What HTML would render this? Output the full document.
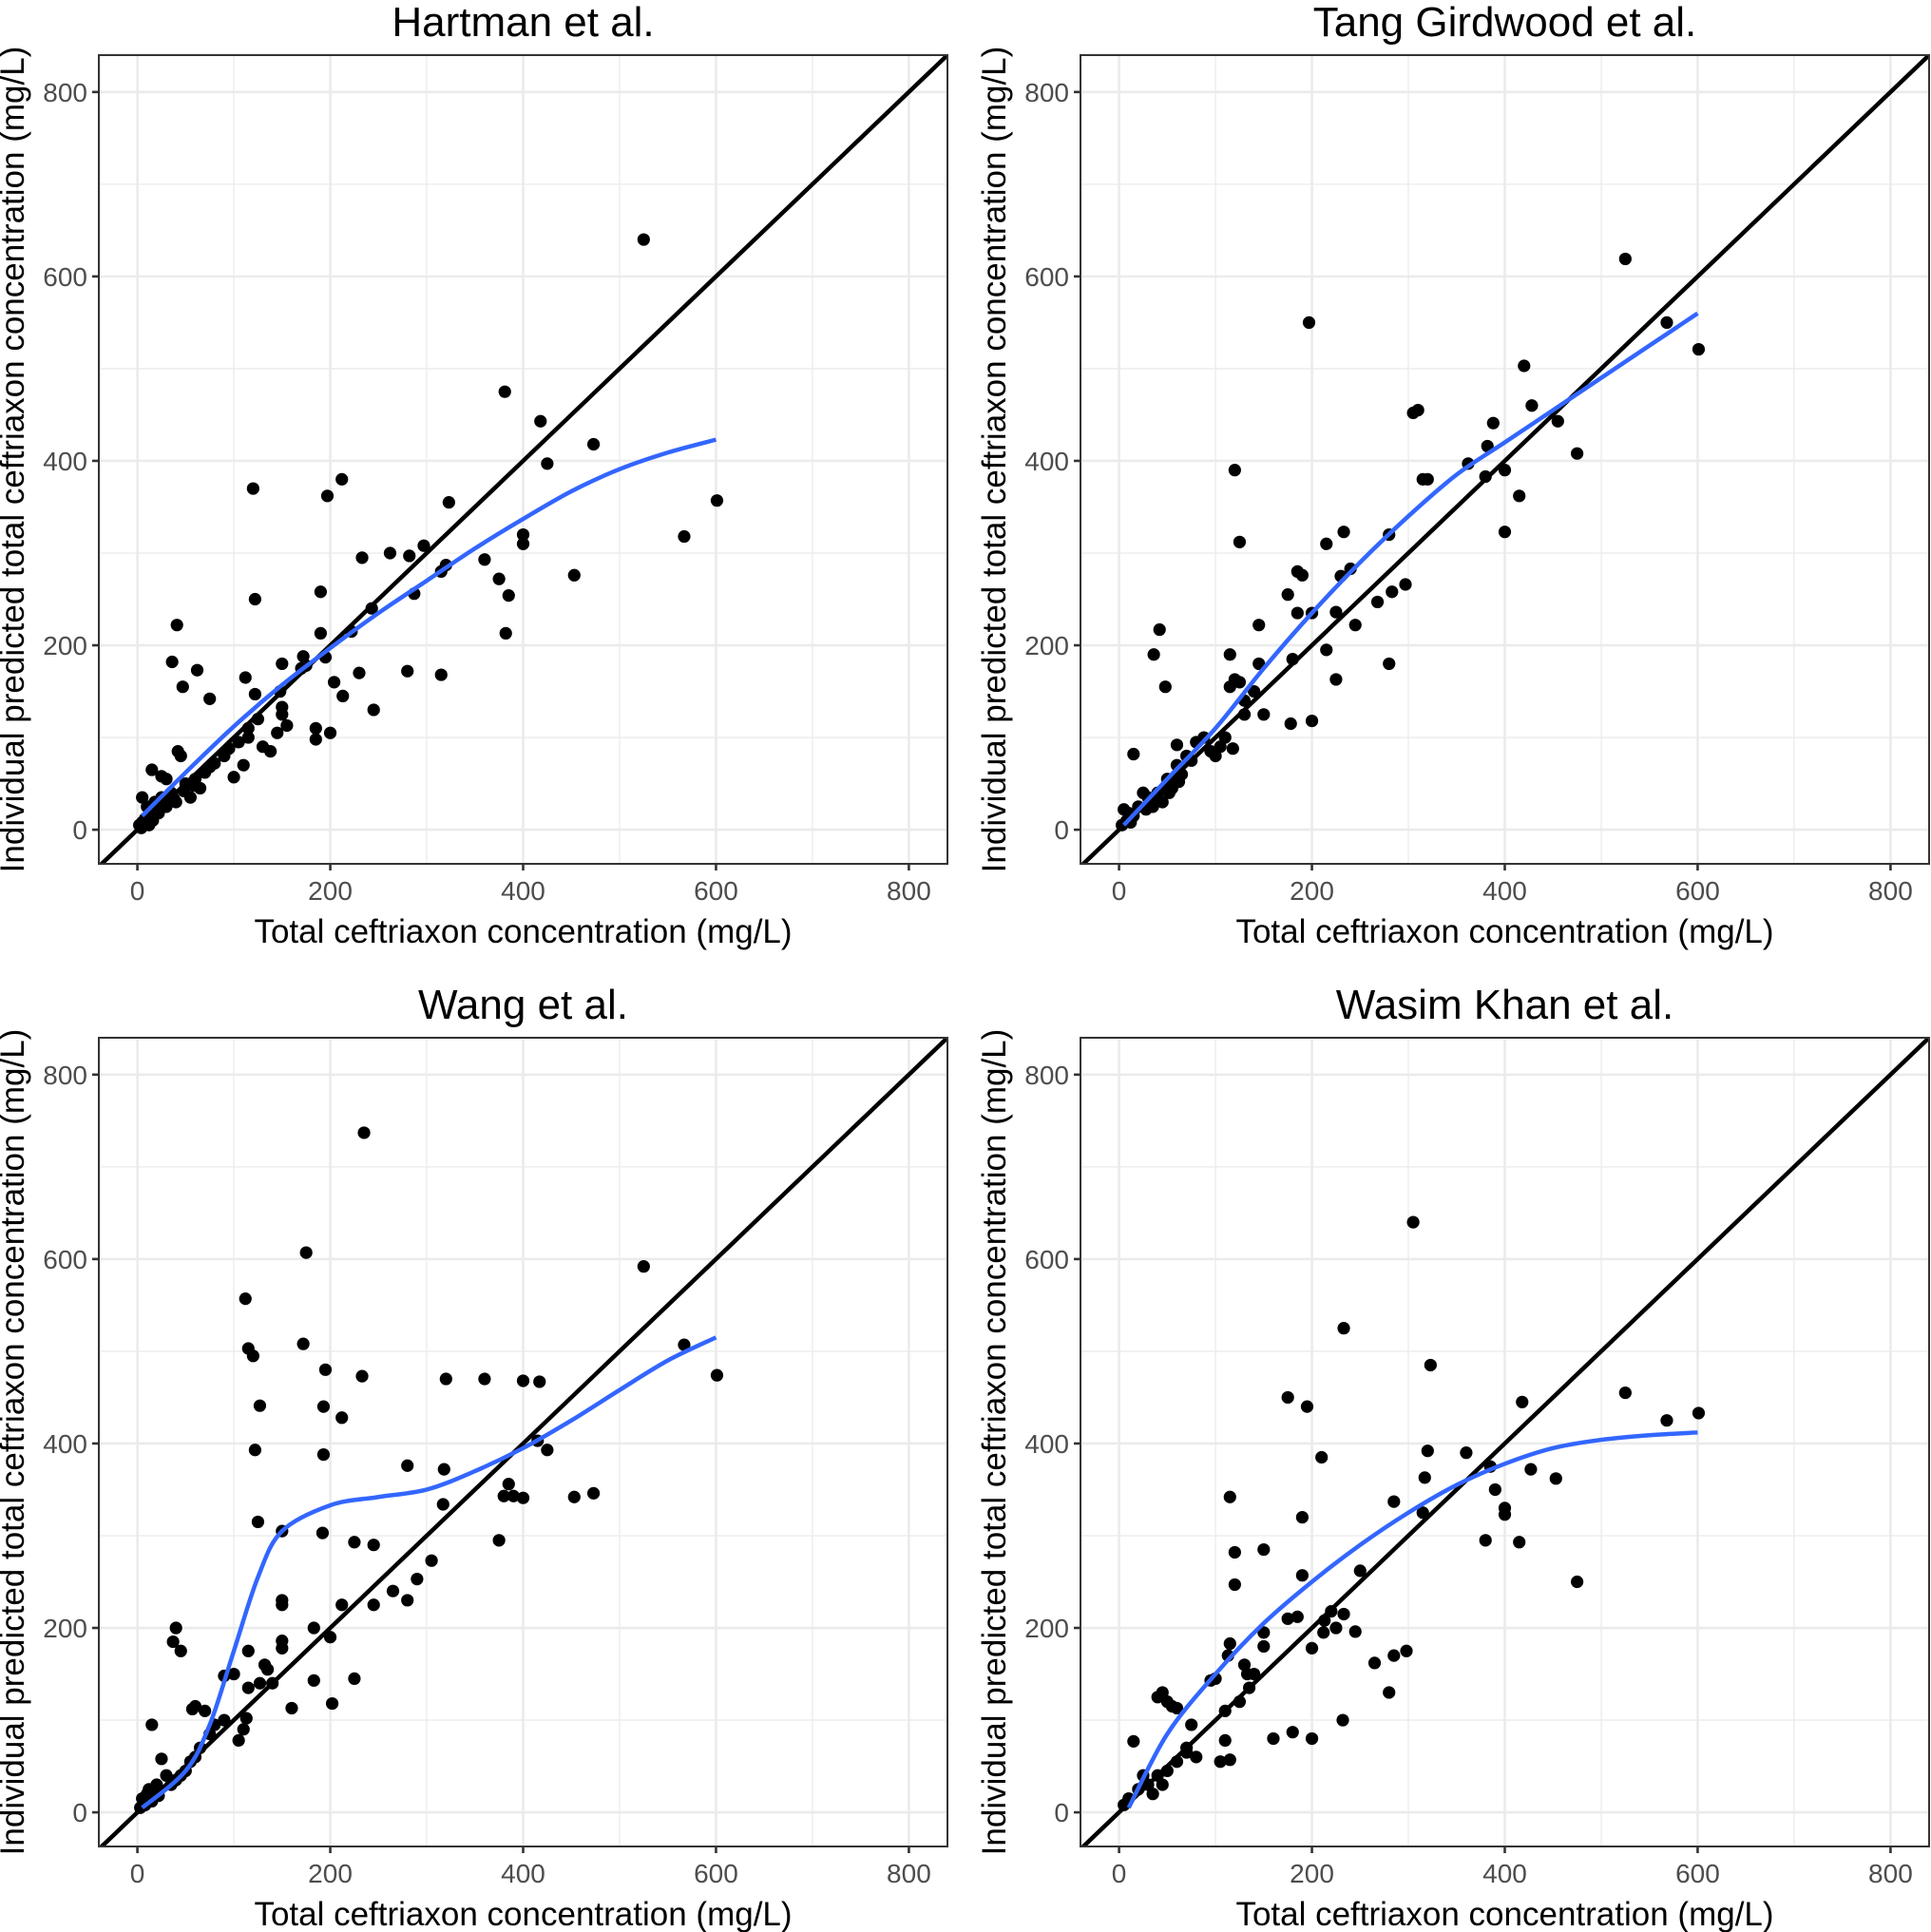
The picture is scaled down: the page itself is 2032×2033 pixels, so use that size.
<!DOCTYPE html>
<html><head><meta charset="utf-8"><style>
html,body{margin:0;padding:0;background:#fff}
svg{display:block}
</style></head><body>
<svg id="fig" width="2032" height="2033" viewBox="0 0 2032 2033" xmlns="http://www.w3.org/2000/svg" font-family="Liberation Sans, Arial, sans-serif"></svg>
<script>
const titles = ["Hartman et al.","Tang Girdwood et al.","Wang et al.","Wasim Khan et al."];
const tickValues = [0,200,400,600,800];
const tickLabels = ["0","200","400","600","800"];
const minorValues = [100,300,500,700];
const ptsHartman = [[525,640],[120,370],[212,380],[197,362],[381,475],[418,443],[425,397],[473,418],[601,357],[567,318],[453,276],[400,320],[400,310],[385,254],[375,272],[382,213],[360,293],[323,355],[297,308],[282,297],[262,300],[233,295],[315,168],[280,172],[245,130],[230,170],[213,145],[204,160],[200,105],[190,258],[190,213],[185,110],[185,98],[172,188],[170,175],[150,180],[150,133],[155,113],[122,250],[41,222],[36,182],[62,173],[47,155],[75,142],[112,165],[122,147],[115,100],[130,90],[145,105],[138,85],[110,70],[100,57],[90,80],[75,68],[65,45],[55,35],[45,80],[42,85],[15,65],[25,58],[30,55],[5,35],[10,25],[20,20],[2,5],[5,8],[8,12],[12,15],[18,30],[25,35],[35,40],[40,30],[50,50],[60,55],[30,25],[12,5],[315,280],[320,287],[287,256],[243,240],[222,215],[195,187],[175,178],[148,150],[125,120],[115,110],[105,95],[95,88],[80,72],[70,62],[58,48],[48,42],[38,33],[28,30],[22,18],[16,10],[4,2],[150,125]];
const lineHartman = [[5,15],[50,62],[100,112],[150,157],[200,197],[250,235],[300,270],[350,305],[400,337],[450,367],[500,391],[550,409],[600,423]];
const ptsTang = [[525,619],[568,550],[601,521],[197,550],[120,390],[125,312],[420,503],[428,460],[455,443],[475,408],[400,390],[415,362],[400,323],[388,441],[382,416],[362,397],[380,383],[310,455],[305,452],[315,380],[320,380],[297,266],[283,258],[280,180],[280,320],[268,247],[233,323],[230,275],[215,310],[225,236],[240,283],[245,222],[225,163],[215,195],[200,235],[185,280],[190,276],[185,235],[180,185],[178,115],[200,118],[175,255],[150,125],[145,222],[145,180],[140,150],[130,140],[125,160],[120,163],[115,190],[115,155],[110,100],[105,90],[100,80],[118,88],[88,100],[80,95],[70,80],[60,92],[60,70],[50,55],[42,217],[36,190],[48,155],[15,82],[40,40],[30,35],[20,25],[10,18],[5,22],[3,5],[8,10],[15,15],[25,40],[35,25],[45,30],[55,45],[65,60],[75,75],[95,85],[12,8],[28,22],[38,32],[52,40],[62,52],[130,125]];
const lineTang = [[5,5],[50,55],[100,110],[150,175],[200,235],[250,290],[300,340],[350,385],[400,420],[450,455],[500,490],[550,525],[600,560]];
const ptsWang = [[235,737],[175,607],[112,557],[525,592],[567,507],[601,474],[115,503],[120,495],[172,508],[195,480],[233,473],[320,470],[360,470],[400,468],[417,467],[127,441],[193,440],[212,428],[122,393],[193,388],[415,403],[425,393],[280,376],[318,372],[385,356],[380,343],[390,343],[400,341],[453,342],[473,346],[317,334],[305,273],[375,295],[290,253],[280,230],[265,240],[245,225],[245,290],[225,293],[225,145],[212,225],[200,190],[202,118],[183,200],[183,143],[192,303],[150,305],[150,230],[150,225],[150,186],[150,178],[132,160],[135,155],[125,315],[127,140],[115,175],[115,135],[113,102],[110,90],[105,78],[100,150],[90,148],[70,110],[60,115],[57,112],[40,200],[37,185],[45,175],[15,95],[25,58],[30,40],[20,30],[10,20],[5,15],[3,5],[8,8],[15,12],[35,30],[45,40],[50,45],[55,55],[65,70],[75,85],[80,95],[90,100],[160,113],[140,140],[12,25],[22,18],[40,35],[60,60]];
const lineWang = [[5,5],[50,45],[75,95],[100,175],[125,255],[150,305],[200,333],[250,342],[300,350],[350,370],[400,395],[450,425],[500,458],[550,490],[600,515]];
const ptsWasim = [[305,640],[233,525],[323,485],[175,450],[195,440],[210,385],[320,392],[360,390],[418,445],[427,372],[453,362],[525,455],[568,425],[601,433],[380,295],[385,375],[390,350],[400,330],[400,323],[415,293],[475,250],[315,325],[317,363],[285,337],[250,262],[245,196],[233,215],[225,200],[212,195],[200,178],[200,80],[232,100],[265,162],[280,130],[285,170],[298,175],[190,320],[190,257],[175,210],[185,212],[180,87],[150,285],[150,195],[150,180],[140,150],[135,135],[130,160],[120,282],[120,247],[115,342],[115,183],[113,170],[110,110],[110,78],[115,57],[105,55],[100,145],[95,143],[75,95],[70,65],[60,113],[55,115],[45,130],[40,125],[50,120],[15,77],[160,80],[20,25],[10,15],[5,8],[30,30],[40,40],[50,45],[60,55],[70,70],[25,40],[35,20],[45,30],[80,60],[125,120],[133,150],[213,208],[220,218]];
const lineWasim = [[10,5],[50,85],[100,150],[150,205],[200,250],[250,290],[300,325],[350,355],[400,378],[450,395],[500,404],[550,409],[600,412]];
const panelPoints = [ptsHartman, ptsTang, ptsWang, ptsWasim];
const panelLines = [lineHartman, lineTang, lineWang, lineWasim];

const NS="http://www.w3.org/2000/svg";
const svg=document.getElementById('fig');
function mk(tag,attrs,parent){const e=document.createElementNS(NS,tag);for(const k in attrs)e.setAttribute(k,attrs[k]);parent.appendChild(e);return e;}
const PW=893, PH=851, DMIN=-40, DMAX=840;
const origins=[[104,58],[1137,58],[104,1092],[1137,1092]];
const slugs=['hartman','tang-girdwood','wang','wasim-khan'];
origins.forEach(([L,T],i)=>{
  const sx=v=>L+(v-DMIN)/(DMAX-DMIN)*PW;
  const sy=v=>T+PH-(v-(-37))/(840-(-37))*PH;
  const g=mk('g',{},svg);
  
  
  const cid='clip'+i;
  const cp=mk('clipPath',{id:cid},g); mk('rect',{x:L,y:T,width:PW,height:PH},cp);
  minorValues.forEach(v=>{
    const a=mk('line',{x1:sx(v),x2:sx(v),y1:T,y2:T+PH,stroke:'#ebebeb','stroke-width':1.3},g);
    
    const b=mk('line',{x1:L,x2:L+PW,y1:sy(v),y2:sy(v),stroke:'#ebebeb','stroke-width':1.3},g);
    
  });
  tickValues.forEach((v,k)=>{
    const a=mk('line',{x1:sx(v),x2:sx(v),y1:T,y2:T+PH,stroke:'#ebebeb','stroke-width':2.6},g);
    
    const b=mk('line',{x1:L,x2:L+PW,y1:sy(v),y2:sy(v),stroke:'#ebebeb','stroke-width':2.6},g);
    
    const tx=mk('line',{x1:sx(v),x2:sx(v),y1:T+PH,y2:T+PH+7,stroke:'#333','stroke-width':2.6},g);
    
    const ty=mk('line',{x1:L-7,x2:L,y1:sy(v),y2:sy(v),stroke:'#333','stroke-width':2.6},g);
    
    const lx=mk('text',{x:sx(v),y:T+PH+38,'text-anchor':'middle','font-size':28,fill:'#4d4d4d'},g);
    lx.textContent=tickLabels[k];
    
    const ly=mk('text',{x:L-12,y:sy(v)+10,'text-anchor':'end','font-size':28,fill:'#4d4d4d'},g);
    ly.textContent=tickLabels[k];
    
  });
  const data=mk('g',{'clip-path':'url(#'+cid+')'},g);
  const diag=mk('line',{x1:sx(DMIN),y1:sy(DMIN),x2:sx(DMAX),y2:sy(DMAX),stroke:'#000','stroke-width':4.5},data);
  
  panelPoints[i].forEach(p=>{
    const c=mk('circle',{cx:sx(p[0]),cy:sy(p[1]),r:6.6,fill:'#000'},data);
    
  });
  const P=panelLines[i].map(p=>[sx(p[0]),sy(p[1])]);
  let d='M'+P[0][0]+','+P[0][1];
  for(let j=0;j<P.length-1;j++){
    const p0=P[Math.max(0,j-1)],p1=P[j],p2=P[j+1],p3=P[Math.min(P.length-1,j+2)];
    d+=' C'+(p1[0]+(p2[0]-p0[0])/6)+','+(p1[1]+(p2[1]-p0[1])/6)+' '+(p2[0]-(p3[0]-p1[0])/6)+','+(p2[1]-(p3[1]-p1[1])/6)+' '+p2[0]+','+p2[1];
  }
  const sm=mk('path',{d:d,fill:'none',stroke:'#3366FF','stroke-width':4.5},data);
  
  const br=mk('rect',{x:L,y:T,width:PW,height:PH,fill:'none',stroke:'#333','stroke-width':2},g);
  
  const tt=mk('text',{x:L+PW/2,y:T-20,'text-anchor':'middle','font-size':44,fill:'#000'},g);
  tt.textContent=titles[i];
  
  const xt=mk('text',{x:L+PW/2,y:T+PH+83,'text-anchor':'middle','font-size':35,fill:'#000'},g);
  xt.textContent='Total ceftriaxon concentration (mg/L)';
  
  const yx=L-79, yy=T+PH/2;
  const yt=mk('text',{x:yx,y:yy,'text-anchor':'middle','font-size':35,fill:'#000',transform:'rotate(-90 '+yx+' '+yy+')'},g);
  yt.textContent='Individual predicted total ceftriaxon concentration (mg/L)';
  
});
</script>
</body></html>
